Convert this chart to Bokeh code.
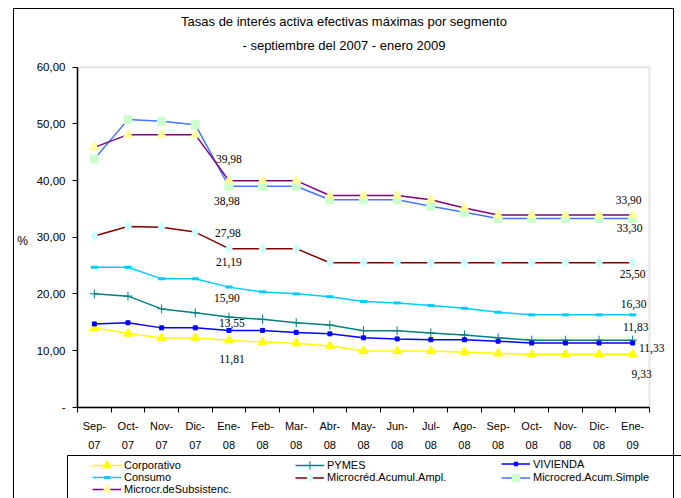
from bokeh.plotting import figure
from bokeh.models import (Range1d, FixedTicker, Label, LabelSet, BoxAnnotation,
                          Legend, LegendItem, ColumnDataSource, InlineStyleSheet)
from bokeh.embed import file_html
from bokeh.resources import INLINE

# ---------------- data ----------------
months = ["Sep-07", "Oct-07", "Nov-07", "Dic-07", "Ene-08", "Feb-08", "Mar-08",
          "Abr-08", "May-08", "Jun-08", "Jul-08", "Ago-08", "Sep-08", "Oct-08",
          "Nov-08", "Dic-08", "Ene-09"]
tick_labels = ["Sep-\n07", "Oct-\n07", "Nov-\n07", "Dic-\n07", "Ene-\n08", "Feb-\n08",
               "Mar-\n08", "Abr-\n08", "May-\n08", "Jun-\n08", "Jul-\n08", "Ago-\n08",
               "Sep-\n08", "Oct-\n08", "Nov-\n08", "Dic-\n08", "Ene-\n09"]

corporativo = [14.0, 13.0, 12.2, 12.2, 11.81, 11.5, 11.3, 10.8, 9.9, 9.9, 9.9,
               9.7, 9.5, 9.33, 9.33, 9.33, 9.33]
pymes = [20.0, 19.6, 17.35, 16.65, 15.90, 15.5, 14.9, 14.5, 13.5, 13.5, 13.1,
         12.75, 12.25, 11.83, 11.83, 11.83, 11.83]
vivienda = [14.7, 14.9, 14.0, 14.0, 13.55, 13.55, 13.2, 12.95, 12.25, 12.05, 11.9,
            11.9, 11.65, 11.33, 11.33, 11.33, 11.33]
consumo = [24.7, 24.7, 22.65, 22.65, 21.19, 20.35, 20.0, 19.5, 18.65, 18.4, 17.95,
           17.45, 16.75, 16.3, 16.3, 16.3, 16.3]
micro_ampl = [30.2, 31.9, 31.75, 30.9, 27.98, 27.98, 27.98, 25.5, 25.5, 25.5, 25.5,
              25.5, 25.5, 25.5, 25.5, 25.5, 25.5]
micro_simple = [43.8, 50.75, 50.45, 49.85, 38.98, 38.98, 38.98, 36.6, 36.6, 36.6,
                35.45, 34.4, 33.3, 33.3, 33.3, 33.3, 33.3]
micro_subs = [45.85, 48.1, 48.1, 48.1, 39.98, 39.98, 39.98, 37.35, 37.35, 37.35,
              36.6, 35.15, 33.9, 33.9, 33.9, 33.9, 33.9]

y_ticks = [0, 10, 20, 30, 40, 50, 60]
y_tick_labels = ["-", "10,00", "20,00", "30,00", "40,00", "50,00", "60,00"]

series_names = ["Corporativo", "PYMES", "VIVIENDA", "Consumo",
                "Microcréd.Acumul.Ampl.", "Microcred.Acum.Simple", "Microcr.deSubsistenc."]
series_values = [corporativo, pymes, vivienda, consumo, micro_ampl, micro_simple, micro_subs]

# ---------------- styles / layout ----------------
FONT = "Liberation Sans"
W, H = 681, 498
PL, PR, PT, PB = 77.0, 649.0, 66.7, 406.7      # plot-area pixel box
NX, YMAX = len(months), 60.0
sx = (PR - PL) / NX
sy = (PB - PT) / YMAX


def px_x(v):   # page pixel -> data x (for decorations only)
    return (v - PL) / sx


def px_y(v):   # page pixel -> data y (for decorations only)
    return (PB - v) / sy


line_colors = ["#FFFF00", "#008080", "#0000FF", "#00CCFF", "#800000", "#4477FF", "#800080"]
markers = ["triangle", "cross", "square", "dash", "diamond", "square", "triangle"]
marker_sizes = [9, 9, 4, 7, 10, 8, 9]
marker_fill = ["#FFFF00", "#008080", "#0000FF", "#00CCFF", "#CCFFFF", "#CCFFCC", "#FFFF99"]
marker_line_w = [1, 1, 1, 3, 1, 1, 1]
legend_glyph_h = [22, 22, 9, 16, 21, 19, 22]

# label offsets (pixels, screen-down positive) for Ene-08 and Ene-09 points
lab08_off = [(3, 19), (-2, -19), (3, -7), (0, -25), (-1, -16), (-2, 15), (0, -22)]
lab09_off = [(9, 20), (3, -13), (19, 5), (1, -11), (0, 11), (-3, 9), (-4, -15)]

# legend slots: (left x, row centre y) in page pixels
legend_slots = [(92, 465), (295, 465), (501, 465),
                (92, 477), (295, 477), (501, 477),
                (92, 489)]

x = [i + 0.5 for i in range(NX)]

# outer chart frame (drawn by the page's CSS around the figure)
frame_css = InlineStyleSheet(css="""
:host { position: relative; }
:host::after {
  content: ""; position: absolute; left: 13.25px; top: 7.75px;
  width: 661px; height: 490.25px; box-sizing: border-box;
  border-left: 1.5px solid #000; border-top: 1.5px solid #000;
  border-right: 1.5px solid #000; pointer-events: none; z-index: 5;
}
""")

p = figure(width=W, height=H, output_backend="svg", toolbar_location=None,
           x_range=Range1d(px_x(0), px_x(W)), y_range=Range1d(px_y(H), px_y(0)),
           min_border=0, min_border_left=0, min_border_right=0,
           min_border_top=0, min_border_bottom=0,
           background_fill_color="white", border_fill_color="white")
p.stylesheets = [frame_css]
p.title.visible = False
p.grid.visible = False
p.outline_line_color = None

# legend box (top and left edges)
p.line([px_x(67), px_x(67), px_x(W + 10)],
       [px_y(H + 10), px_y(455), px_y(455)],
       line_color="black", line_width=1, level="overlay")

# plot-area border (gray), below the axes
p.add_layout(BoxAnnotation(left=0, right=NX, bottom=0, top=YMAX, fill_alpha=0,
                           line_color="#a6a6a6", line_width=2, level="underlay"))

xa = p.xaxis[0]
xa.fixed_location = 0
xa.bounds = (0, NX)
xa.ticker = FixedTicker(ticks=x, minor_ticks=list(range(NX + 1)))
xa.major_label_overrides = {xv: t for xv, t in zip(x, tick_labels)}
xa.major_tick_line_color = None
xa.major_tick_out = 0
xa.major_tick_in = 0
xa.minor_tick_out = 5
xa.minor_tick_in = 0
xa.minor_tick_line_color = "black"
xa.axis_line_color = "black"
xa.axis_line_width = 1.5
xa.major_label_standoff = 8
xa.major_label_text_font = FONT
xa.major_label_text_font_size = "11px"
xa.major_label_text_color = "black"
xa.major_label_text_line_height = 1.6

ya = p.yaxis[0]
ya.fixed_location = 0
ya.bounds = (0, YMAX)
ya.ticker = FixedTicker(ticks=y_ticks, minor_ticks=[])
ya.major_label_overrides = {t: l for t, l in zip(y_ticks, y_tick_labels)}
ya.major_tick_out = 5
ya.major_tick_in = 0
ya.major_tick_line_color = "black"
ya.minor_tick_line_color = None
ya.axis_line_color = "black"
ya.axis_line_width = 1.5
ya.major_label_standoff = 7
ya.major_label_text_font = FONT
ya.major_label_text_font_size = "11.5px"
ya.major_label_text_color = "black"

items = []
for name, vals, lc, mk, ms, mf, mlw in zip(series_names, series_values, line_colors,
                                          markers, marker_sizes, marker_fill, marker_line_w):
    src = ColumnDataSource(dict(x=x, y=vals))
    lr = p.line("x", "y", source=src, line_color=lc, line_width=1.5)
    sr = p.scatter("x", "y", source=src, marker=mk, size=ms, fill_color=mf,
                   line_color=mf, line_width=mlw)
    items.append(LegendItem(label=name, renderers=[lr, sr]))

# data labels
lx, ly, lt, ldx, ldy = [], [], [], [], []
for vals, o8, o9 in zip(series_values, lab08_off, lab09_off):
    for idx, off in ((4, o8), (NX - 1, o9)):
        lx.append(x[idx])
        ly.append(vals[idx])
        lt.append(f"{vals[idx]:.2f}".replace(".", ","))
        ldx.append(off[0])
        ldy.append(-off[1])
lab_src = ColumnDataSource(dict(x=lx, y=ly, text=lt, dx=ldx, dy=ldy))
p.add_layout(LabelSet(x="x", y="y", text="text", x_offset="dx", y_offset="dy",
                      source=lab_src, text_font=FONT, text_font_size="11.5px",
                      text_color="black", text_align="center", text_baseline="middle"))

# titles and axis label (screen units measured from the bottom-left corner)
p.add_layout(Label(x=343.5, y=H - 21, x_units="screen", y_units="screen",
                   text="Tasas de interés activa efectivas máximas por segmento",
                   text_font=FONT, text_font_size="13px", text_align="center",
                   text_baseline="middle", text_color="black"))
p.add_layout(Label(x=343.5, y=H - 45, x_units="screen", y_units="screen",
                   text="- septiembre del 2007 - enero 2009",
                   text_font=FONT, text_font_size="13px", text_align="center",
                   text_baseline="middle", text_color="black"))
p.add_layout(Label(x=22, y=H - 240, x_units="screen", y_units="screen", text="%",
                   text_font=FONT, text_font_size="12px", text_align="center",
                   text_baseline="middle", text_color="black"))

# legend: one single-item legend per slot
for it, (lx0, cy), gh in zip(items, legend_slots, legend_glyph_h):
    leg = Legend(items=[it], location=(lx0, H - cy - gh / 2), orientation="vertical",
                 border_line_color=None, background_fill_alpha=0, padding=0, margin=0,
                 spacing=0, glyph_width=29, glyph_height=gh, label_height=12,
                 label_standoff=3, label_text_font=FONT, label_text_font_size="11px",
                 label_text_color="black")
    p.add_layout(leg, "center")

open("out.html", "w").write(file_html(p, INLINE))
